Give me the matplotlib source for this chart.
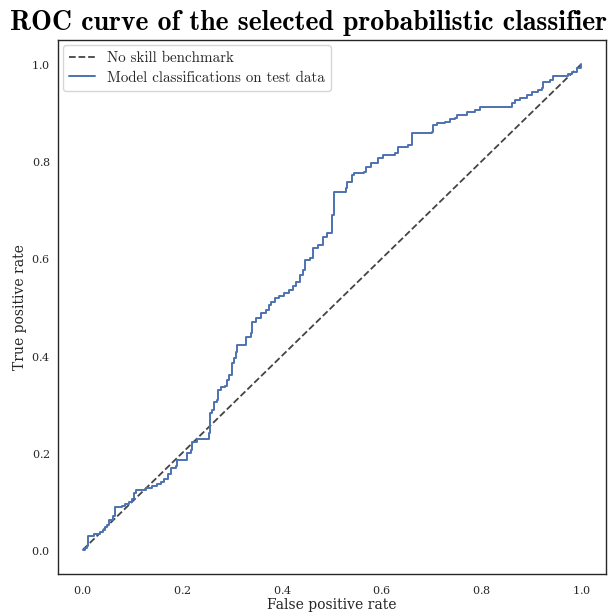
import matplotlib
matplotlib.use("Agg")
import matplotlib.pyplot as plt
import seaborn as sns

sns.set_style("white")
plt.rcParams["font.family"] = ["DejaVu Serif"]
plt.rcParams["axes.formatter.use_mathtext"] = True

# ROC points of the classifier on the test set
fpr = [0.000, 0.004, 0.008, 0.010, 0.022, 0.034, 0.040, 0.044, 0.048, 0.052,
       0.060, 0.064, 0.078, 0.085, 0.093, 0.099, 0.103, 0.107, 0.127, 0.139,
       0.149, 0.157, 0.163, 0.171, 0.177, 0.187, 0.189, 0.207, 0.209, 0.217,
       0.219, 0.229, 0.249, 0.254, 0.256, 0.260, 0.264, 0.270, 0.272, 0.278,
       0.286, 0.290, 0.294, 0.300, 0.304, 0.308, 0.310, 0.324, 0.328, 0.338,
       0.340, 0.348, 0.358, 0.368, 0.374, 0.378, 0.386, 0.394, 0.404, 0.414,
       0.421, 0.427, 0.435, 0.441, 0.445, 0.455, 0.461, 0.471, 0.481, 0.489,
       0.499, 0.501, 0.505, 0.529, 0.531, 0.541, 0.545, 0.565, 0.569, 0.579,
       0.592, 0.602, 0.626, 0.632, 0.652, 0.660, 0.700, 0.702, 0.710, 0.726,
       0.736, 0.746, 0.751, 0.771, 0.787, 0.797, 0.847, 0.861, 0.867, 0.877,
       0.891, 0.901, 0.913, 0.922, 0.924, 0.938, 0.944, 0.974, 0.982, 0.992,
       1.000]
tpr = [0.000, 0.004, 0.008, 0.029, 0.033, 0.037, 0.041, 0.047, 0.051, 0.062,
       0.070, 0.088, 0.091, 0.095, 0.099, 0.105, 0.117, 0.123, 0.128, 0.132,
       0.136, 0.140, 0.146, 0.156, 0.169, 0.173, 0.185, 0.185, 0.200, 0.206,
       0.222, 0.228, 0.228, 0.241, 0.282, 0.288, 0.305, 0.309, 0.329, 0.335,
       0.337, 0.350, 0.360, 0.385, 0.395, 0.407, 0.422, 0.422, 0.438, 0.447,
       0.469, 0.477, 0.488, 0.494, 0.504, 0.510, 0.519, 0.523, 0.529, 0.535,
       0.543, 0.551, 0.566, 0.576, 0.597, 0.601, 0.621, 0.628, 0.644, 0.652,
       0.658, 0.689, 0.737, 0.745, 0.757, 0.772, 0.776, 0.778, 0.788, 0.796,
       0.807, 0.813, 0.817, 0.829, 0.833, 0.858, 0.860, 0.874, 0.879, 0.881,
       0.887, 0.889, 0.895, 0.901, 0.905, 0.912, 0.912, 0.920, 0.926, 0.930,
       0.936, 0.942, 0.947, 0.951, 0.963, 0.967, 0.975, 0.979, 0.984, 0.992,
       1.000]

baseline = [0.0, 1.0]

fig = plt.figure(figsize=(6.13, 6.12), dpi=100)
ax = fig.add_axes([0.0946, 0.0621, 0.894, 0.8725])

ax.plot(baseline, baseline, linestyle="--", color="#444444", lw=1.3,
        label="No skill benchmark")
ax.plot(fpr, tpr, color="#4c72b0", lw=1.4, drawstyle="steps-post",
        label="Model classifications on test data")

ax.set_xlabel("False positive rate", fontsize=10, labelpad=2)
ax.set_ylabel("True positive rate", fontsize=10, labelpad=3)
ax.tick_params(labelsize=8)
ax.tick_params(axis="y", pad=2)
for s in ax.spines.values():
    s.set_color("#262626")
    s.set_linewidth(1.0)

ax.legend(loc="upper left", prop={"family": "cmr10", "size": 10.8},
          frameon=True, edgecolor="#cccccc", handlelength=1.75,
          borderaxespad=0.35, labelspacing=0.4)

fig.text(0.016, 0.951, "ROC curve of the selected probabilistic classifier",
         family="cmb10", fontsize=20.0, color="black",
         ha="left", va="baseline")

fig.savefig("out.png", dpi=100)
